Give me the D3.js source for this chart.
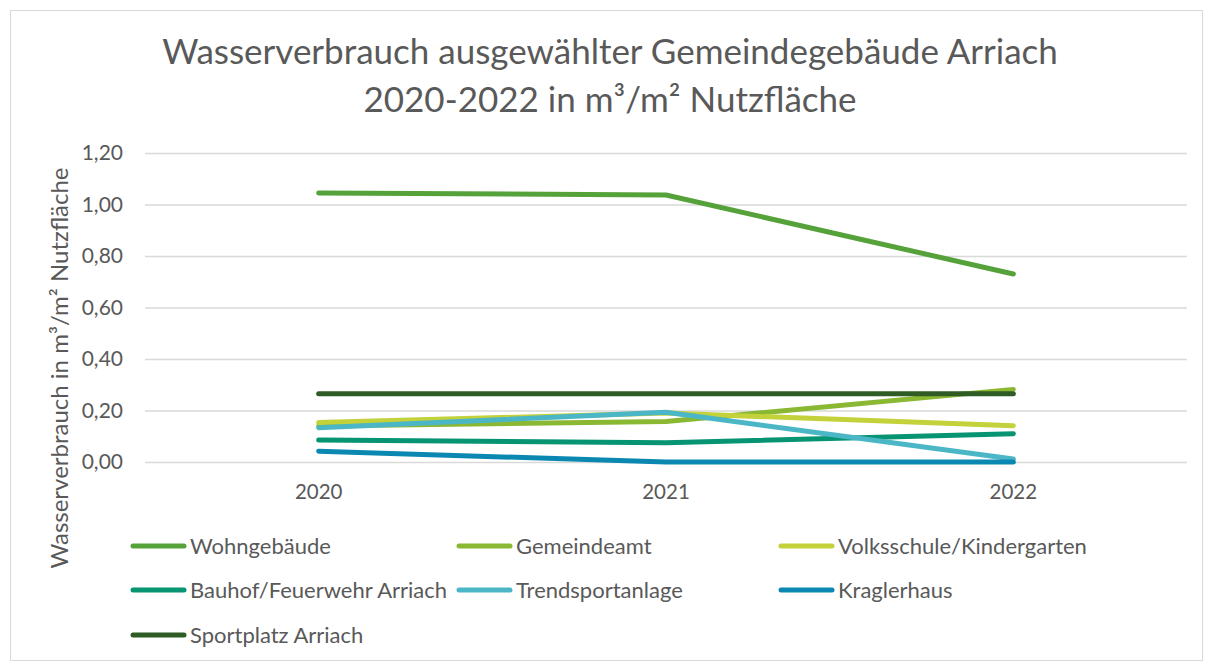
<!DOCTYPE html>
<html>
<head>
<meta charset="utf-8">
<script src="https://cdn.jsdelivr.net/npm/d3@7"></script>
<style>
  body { margin: 0; background: #fff; }
  text { font-family: Lato, "Open Sans", sans-serif; fill: #595959; }
</style>
</head>
<body>
<div id="chart"></div>
<script>
const years = ["2020", "2021", "2022"];
const seriesNames = ["Wohngebäude", "Gemeindeamt", "Volksschule/Kindergarten",
  "Bauhof/Feuerwehr Arriach", "Trendsportanlage", "Kraglerhaus", "Sportplatz Arriach"];
const wohngebaeude = [1.045, 1.037, 0.73];
const gemeindeamt = [0.14, 0.157, 0.282];
const volksschule = [0.153, 0.19, 0.141];
const bauhof = [0.085, 0.075, 0.11];
const trendsport = [0.133, 0.193, 0.012];
const kragler = [0.042, 0.0, 0.0];
const sportplatz = [0.265, 0.265, 0.265];
const yTicks = [0, 0.2, 0.4, 0.6, 0.8, 1.0, 1.2];
const colors = ["#56a23a", "#8ab833", "#c3d13a", "#069473", "#4bb6c6", "#0b88b1", "#2f5b24"];

const seriesValues = [wohngebaeude, gemeindeamt, volksschule, bauhof, trendsport, kragler, sportplatz];
const series = seriesNames.map((name, i) => ({name, values: seriesValues[i], color: colors[i]}));

const width = 1213, height = 666;
const svg = d3.select("#chart").append("svg")
  .attr("width", width).attr("height", height);

// chart frame
svg.append("rect")
  .attr("x", 10.5).attr("y", 10.5)
  .attr("width", 1192).attr("height", 650)
  .attr("fill", "#fff").attr("stroke", "#d9d9d9");

const plot = {left: 145, right: 1187, top: 153, bottom: 462};

const x = d3.scaleBand().domain(years).range([plot.left, plot.right]);
const y = d3.scaleLinear().domain([0, 1.2]).range([plot.bottom, plot.top]);

// title
const title = svg.append("text")
  .attr("text-anchor", "middle")
  .attr("font-size", 35);
title.append("tspan").attr("x", 610).attr("y", 64).text("Wasserverbrauch ausgewählter Gemeindegebäude Arriach");
title.append("tspan").attr("x", 610).attr("y", 112).text("2020-2022 in m³/m² Nutzfläche");

// grid
svg.append("g")
  .attr("transform", `translate(${plot.left},0)`)
  .call(d3.axisLeft(y).tickValues(yTicks).tickSize(-(plot.right - plot.left)).tickFormat(""))
  .call(g => g.select(".domain").remove())
  .call(g => g.selectAll("line").attr("stroke", "#d9d9d9").attr("stroke-width", 1.3));

// y labels
svg.append("g")
  .attr("transform", `translate(${plot.left},0)`)
  .call(d3.axisLeft(y).tickValues(yTicks).tickSize(0).tickPadding(22)
    .tickFormat(d => d3.format(".2f")(d).replace(".", ",")))
  .call(g => g.select(".domain").remove())
  .call(g => g.selectAll("text").attr("font-size", 21).attr("fill", "#595959")
    .style("font-family", "Lato, 'Open Sans', sans-serif"));

// x labels
svg.append("g")
  .attr("transform", `translate(0,${plot.bottom})`)
  .call(d3.axisBottom(x).tickSize(0).tickPadding(22))
  .call(g => g.select(".domain").remove())
  .call(g => g.selectAll("text").attr("font-size", 20.5).attr("fill", "#595959")
    .style("font-family", "Lato, 'Open Sans', sans-serif"));

// y axis title
svg.append("text")
  .attr("transform", "translate(68,368) rotate(-90)")
  .attr("text-anchor", "middle")
  .attr("font-size", 24)
  .text("Wasserverbrauch in m³/m² Nutzfläche");

const line = d3.line()
  .x((d, i) => x(years[i]) + x.bandwidth() / 2)
  .y(d => y(d));

svg.append("g").selectAll("path")
  .data(series)
  .join("path")
  .attr("d", d => line(d.values))
  .attr("fill", "none")
  .attr("stroke", d => d.color)
  .attr("stroke-width", 5)
  .attr("stroke-linecap", "round")
  .attr("stroke-linejoin", "round");

// legend
const legCols = [130, 456, 778];
const legRows = [546, 590, 635];
const legend = svg.append("g").selectAll("g")
  .data(series)
  .join("g")
  .attr("transform", (d, i) => `translate(${legCols[i % 3]},${legRows[Math.floor(i / 3)]})`);
legend.append("line")
  .attr("x1", 3).attr("x2", 54)
  .attr("stroke", d => d.color)
  .attr("stroke-width", 5)
  .attr("stroke-linecap", "round");
legend.append("text")
  .attr("x", 60)
  .attr("dy", "0.35em")
  .attr("font-size", 22)
  .text(d => d.name);
</script>
</body>
</html>
